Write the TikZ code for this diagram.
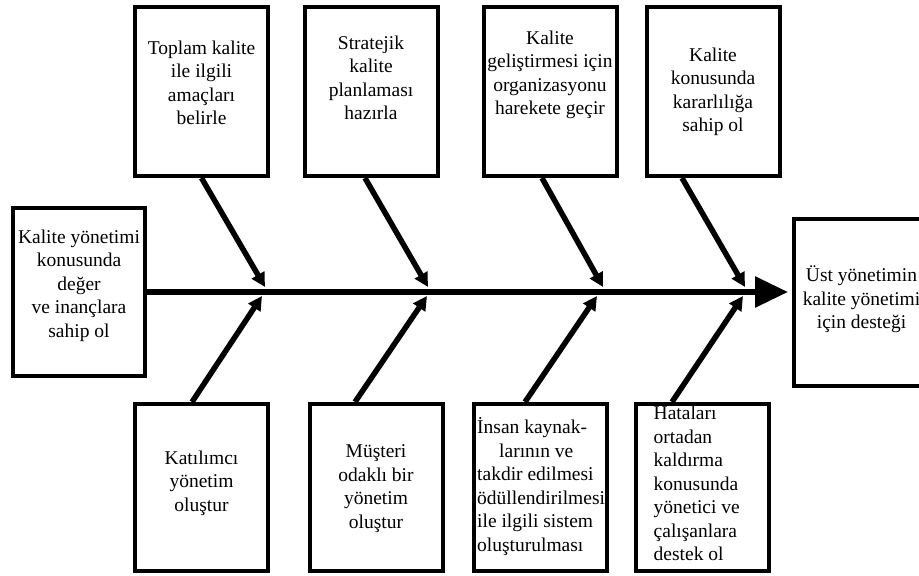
\documentclass[tikz,border=0pt]{standalone}
\usepackage{fontspec}
\setmainfont{Liberation Serif}
\usetikzlibrary{positioning, arrows.meta}

\begin{document}
\begin{tikzpicture}[
  x=1pt, y=-1pt,
  causebox/.style={draw, line width=4pt, minimum width=133pt, minimum height=169pt, inner sep=0pt},
  lowbox/.style={causebox, minimum height=167pt},
  label/.style={inner sep=0pt, align=center, font=\fontsize{19.5}{23.5}\selectfont},
  leftlabel/.style={label, align=left},
  bone/.style={line width=5.5pt, -{Triangle[length=14pt, width=14pt]}},
  spine/.style={line width=6pt, -{Triangle[length=33pt, width=30pt]}}
]
  \useasboundingbox (0,0) rectangle (919,576);

  % Head and tail
  \node[causebox, minimum width=132pt, minimum height=168pt] (tail) at (79,292) {};
  \node[label, below=23.5pt of tail.north] {Kalite yönetimi\\konusunda\\değer\\ve inançlara\\sahip ol};
  \node[lowbox, minimum width=135pt] (head) at (861.5,302.5) {};
  \node[label, below=48.5pt of head.north] {Üst yönetimin\\kalite yönetimi\\için desteği};

  % Upper causes
  \node[causebox] (t1) at (201.5,91.5) {};
  \node[causebox] (t2) at (371,91.5) {};
  \node[causebox] (t3) at (550,91.5) {};
  \node[causebox] (t4) at (713,91.5) {};
  \node[label, below=35.5pt of t1.north] {Toplam kalite\\ile ilgili\\amaçları\\belirle};
  \node[label, below=30.5pt of t2.north] {Stratejik\\kalite\\planlaması\\hazırla};
  \node[label, below=25.5pt of t3.north] {Kalite\\geliştirmesi için\\organizasyonu\\harekete geçir};
  \node[label, below=42.5pt of t4.north] {Kalite\\konusunda\\kararlılığa\\sahip ol};

  % Lower causes
  \node[lowbox] (b1) at (201.5,487.5) {};
  \node[lowbox] (b2) at (376,487.5) {};
  \node[lowbox] (b3) at (540.5,487.5) {};
  \node[lowbox] (b4) at (702,487.5) {};
  \node[label, below=48.5pt of b1.north] {Katılımcı\\yönetim\\oluştur};
  \node[label, below=42.5pt of b2.north] {Müşteri\\odaklı bir\\yönetim\\oluştur};
  \node[leftlabel, below right=15.5pt and 5pt of b3.north west]
    {İnsan kaynak-\\\hspace*{22pt}larının ve\\takdir edilmesi\\ödüllendirilmesi\\ile ilgili sistem\\oluşturulması};
  \node[leftlabel, below right=4pt and 20pt of b4.north west]
    {Hataları\\ortadan\\kaldırma\\konusunda\\yönetici ve\\çalışanlara\\destek ol};

  % Points on the spine
  \coordinate (e1) at (265,287);
  \coordinate (e2) at (428,287);
  \coordinate (e3) at (603,287);
  \coordinate (e4) at (745,287);
  \coordinate (f1) at (262,296);
  \coordinate (f2) at (427,296);
  \coordinate (f3) at (597,296);
  \coordinate (f4) at (743,296);

  % Spine
  \draw[spine] (tail.east) -- ([xshift=-4pt]tail.east -| head.west);

  % Bones
  \draw[bone] (t1.south) -- (e1);
  \draw[bone] ([xshift=-6pt]t2.south) -- (e2);
  \draw[bone] ([xshift=-8pt]t3.south) -- (e3);
  \draw[bone] ([xshift=-31pt]t4.south) -- (e4);
  \draw[bone] ([xshift=-9.5pt]b1.north) -- (f1);
  \draw[bone] ([xshift=-21pt]b2.north) -- (f2);
  \draw[bone] ([xshift=-15.5pt]b3.north) -- (f3);
  \draw[bone] ([xshift=-30pt]b4.north) -- (f4);
\end{tikzpicture}
\end{document}
